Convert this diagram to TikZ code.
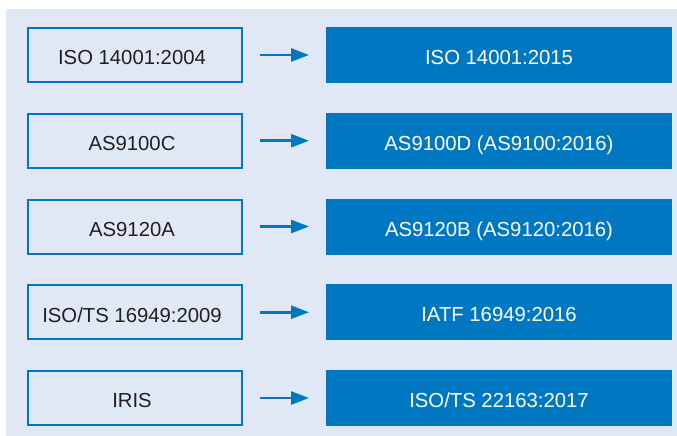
\documentclass[tikz,border=0pt]{standalone}
\usepackage{fontspec}
\setmainfont{Liberation Sans}
\usetikzlibrary{arrows.meta, positioning}
\definecolor{isoblue}{HTML}{0077C1}
\definecolor{panelbg}{HTML}{E1E8F5}
\definecolor{darktext}{HTML}{231F20}

\begin{document}
\begin{tikzpicture}[x=1pt, y=-1pt, node distance=29.75pt and 83pt, font=\fontsize{20.3}{24}\selectfont]
  % Define styles
  \tikzstyle{oldstd} = [rectangle, minimum width=214pt, minimum height=54pt, text centered, draw=isoblue, line width=2pt, text=darktext, text height=19.6pt, text depth=0pt, execute at end node={\hspace*{6pt}}]
  \tikzstyle{newstd} = [rectangle, minimum width=346pt, minimum height=56pt, text centered, fill=isoblue, outer sep=0pt, text=white, text height=19pt, text depth=0pt]
  \tikzstyle{conv} = [draw=isoblue, line width=2.6pt, -{Triangle[length=18pt, width=13pt]}, shorten <=17pt, shorten >=17pt]

  % Background panel
  \useasboundingbox (0,0) rectangle (677,436);
  \fill [panelbg] (6,9) rectangle (677,436);

  % Place nodes
  \node [oldstd] (iso14k) at (135,55) {ISO 14001:2004};
  \node [oldstd, below=of iso14k] (as9100) {AS9100C};
  \node [oldstd, below=of as9100] (as9120) {AS9120A};
  \node [oldstd, below=of as9120] (ts16949) {ISO/TS 16949:2009};
  \node [oldstd, below=of ts16949] (iris) {IRIS};

  \node [newstd, right=of iso14k] (iso14kNew) {ISO 14001:2015};
  \node [newstd, right=of as9100] (as9100New) {AS9100D (AS9100:2016)};
  \node [newstd, right=of as9120] (as9120New) {AS9120B (AS9120:2016)};
  \node [newstd, right=of ts16949] (iatf) {IATF 16949:2016};
  \node [newstd, right=of iris] (ts22163) {ISO/TS 22163:2017};

  % Draw edges
  \path [conv] (iso14k) -- (iso14kNew);
  \path [conv] (as9100) -- (as9100New);
  \path [conv] (as9120) -- (as9120New);
  \path [conv] (ts16949) -- (iatf);
  \path [conv] (iris) -- (ts22163);

\end{tikzpicture}
\end{document}
